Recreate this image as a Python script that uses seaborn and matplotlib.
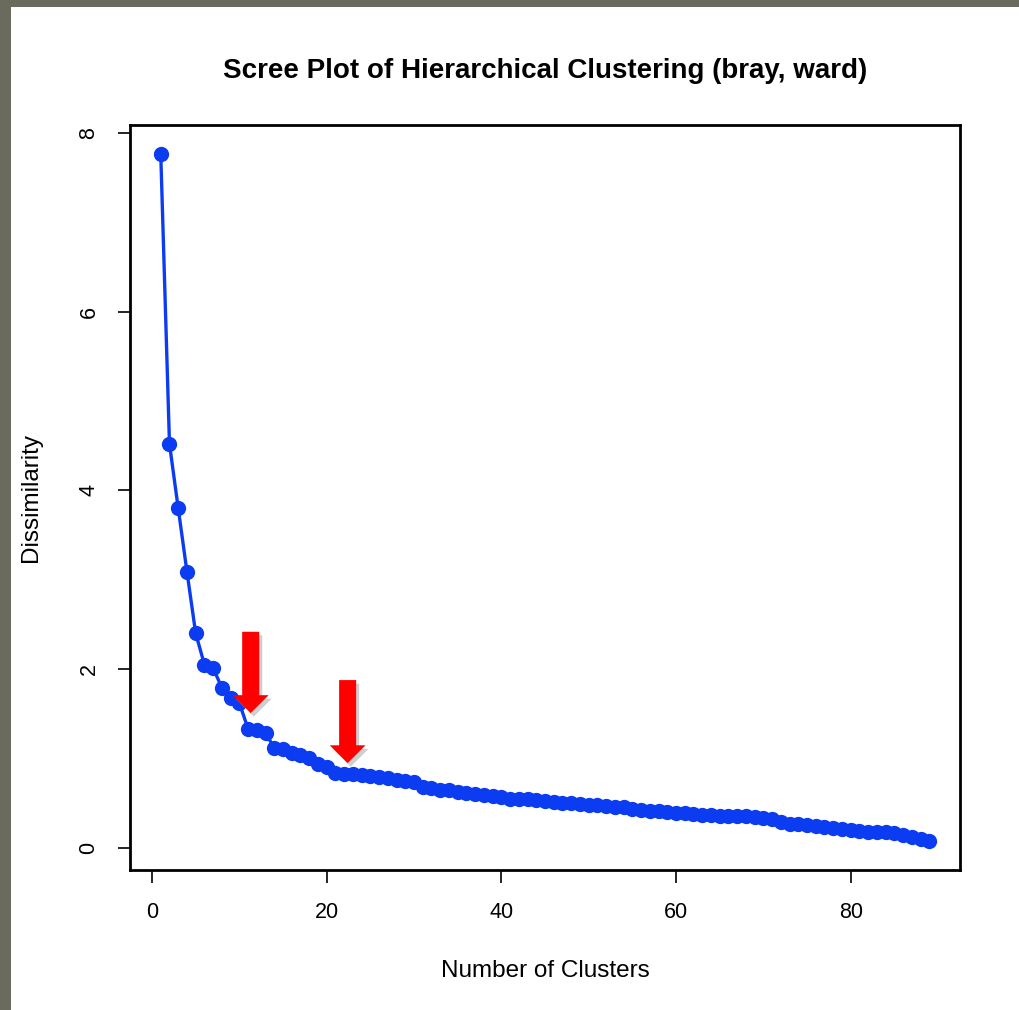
import numpy as np
import pandas as pd
import seaborn as sns
import matplotlib as mpl
import matplotlib.pyplot as plt
from matplotlib.patches import Rectangle

# merge height for each number of clusters
n_clusters = list(range(1, 90))
dissimilarity = [
    7.77, 4.52, 3.80, 3.09, 2.40, 2.05, 2.01, 1.79, 1.68, 1.62,
    1.33, 1.32, 1.28, 1.12, 1.11, 1.06, 1.04, 1.00, 0.94, 0.90,
    0.84, 0.83, 0.82, 0.81, 0.80, 0.79, 0.78, 0.76, 0.75, 0.73,
    0.68, 0.67, 0.65, 0.64, 0.62, 0.61, 0.60, 0.59, 0.58, 0.57,
    0.55, 0.54, 0.54, 0.53, 0.52, 0.51, 0.50, 0.50, 0.49, 0.48,
    0.48, 0.47, 0.46, 0.45, 0.43, 0.42, 0.41, 0.41, 0.40, 0.39,
    0.39, 0.38, 0.37, 0.37, 0.36, 0.36, 0.35, 0.35, 0.34, 0.33,
    0.32, 0.29, 0.27, 0.26, 0.25, 0.24, 0.23, 0.22, 0.21, 0.20,
    0.19, 0.18, 0.17, 0.17, 0.16, 0.14, 0.12, 0.10, 0.07,
]
x_ticks = [0, 20, 40, 60, 80]
y_ticks = [0, 2, 4, 6, 8]

# elbows marked with red arrows: (cluster count, gap above the point, arrow length)
elbows = [(11.3, 0.18, 0.91), (22.4, 0.12, 0.93)]

df = pd.DataFrame({'k': n_clusters, 'dis': dissimilarity})

sns.set_style('ticks')
plt.rcParams['font.family'] = ['Liberation Sans', 'DejaVu Sans']
plt.rcParams['text.color'] = 'black'
plt.rcParams['axes.labelcolor'] = 'black'

fig = plt.figure(figsize=(10.19, 10.10), dpi=100)
fig.patch.set_facecolor('white')
# grey frame of the slide on the left and top
for rect in [(0, 0, 11 / 1019, 1), (0, 1 - 7 / 1010, 1, 7 / 1010)]:
    fig.patches.append(Rectangle(rect[:2], rect[2], rect[3], transform=fig.transFigure,
                                 facecolor='#6a6b5d', edgecolor='none', zorder=-5))

ax = fig.add_axes([130 / 1019, 1 - 870 / 1010, 830 / 1019, 745 / 1010])
sns.lineplot(data=df, x='k', y='dis', ax=ax, color='#0b3cf2', linewidth=2.4,
             marker='o', markersize=11, markeredgewidth=0)

ax.set_xlim(-2.52, 92.52)
ax.set_ylim(-0.25, 8.09)
ax.set_xticks(x_ticks)
ax.set_yticks(y_ticks)
ax.set_xticklabels([str(t) for t in x_ticks])
ax.set_yticklabels([str(t) for t in y_ticks], rotation=90, va='center')
ax.tick_params(axis='both', direction='out', length=9, width=1.2, labelsize=15.5,
               colors='black')
ax.tick_params(axis='x', pad=14)
ax.tick_params(axis='y', pad=13)
for s in ax.spines.values():
    s.set_visible(True)
    s.set_linewidth(2)
    s.set_color('black')

ax.set_xlabel('Number of Clusters', fontsize=17.5, labelpad=27)
ax.set_ylabel('Dissimilarity', fontsize=17.5, labelpad=26)
ax.set_title('Scree Plot of Hierarchical Clustering (bray, ward)', fontsize=20,
             fontweight='bold', pad=34, color='black')

for xk, gap, length in elbows:
    tip = np.interp(xk, df['k'], df['dis']) + gap
    for dx, dy, col, z in [(0.35, -0.04, '#b0b0b0', 4), (0, 0, '#ff0000', 5)]:
        ax.arrow(xk + dx, tip + length + dy, 0, -length, width=1.95, head_width=4.1,
                 head_length=0.2, length_includes_head=True, color=col, lw=0, zorder=z,
                 alpha=0.6 if z == 4 else 1)

fig.savefig('out.png', dpi=100)
